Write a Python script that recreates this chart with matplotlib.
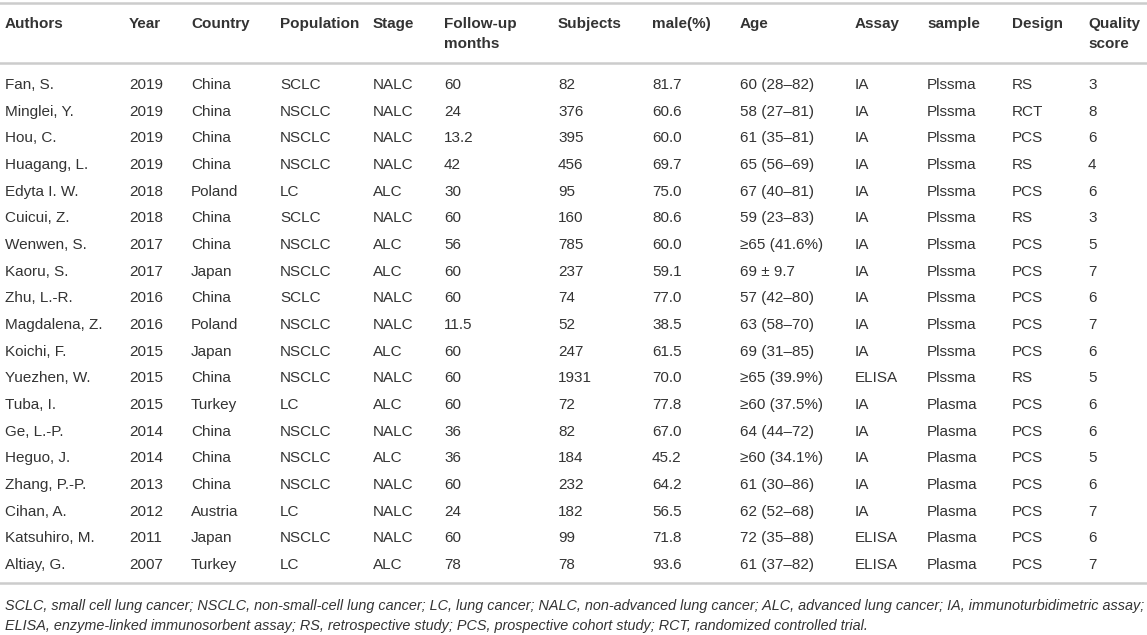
import matplotlib
matplotlib.use("Agg")
import matplotlib.pyplot as plt
from matplotlib.lines import Line2D

# ---- data ----
headers = ["Authors", "Year", "Country", "Population", "Stage", "Follow-up\nmonths",
           "Subjects", "male(%)", "Age", "Assay", "sample", "Design", "Quality\nscore"]
authors = ["Fan, S.", "Minglei, Y.", "Hou, C.", "Huagang, L.", "Edyta I. W.", "Cuicui, Z.",
           "Wenwen, S.", "Kaoru, S.", "Zhu, L.-R.", "Magdalena, Z.", "Koichi, F.", "Yuezhen, W.",
           "Tuba, I.", "Ge, L.-P.", "Heguo, J.", "Zhang, P.-P.", "Cihan, A.", "Katsuhiro, M.",
           "Altiay, G."]
years = ["2019", "2019", "2019", "2019", "2018", "2018", "2017", "2017", "2016", "2016",
         "2015", "2015", "2015", "2014", "2014", "2013", "2012", "2011", "2007"]
countries = ["China", "China", "China", "China", "Poland", "China", "China", "Japan", "China",
             "Poland", "Japan", "China", "Turkey", "China", "China", "China", "Austria", "Japan",
             "Turkey"]
populations = ["SCLC", "NSCLC", "NSCLC", "NSCLC", "LC", "SCLC", "NSCLC", "NSCLC", "SCLC",
               "NSCLC", "NSCLC", "NSCLC", "LC", "NSCLC", "NSCLC", "NSCLC", "LC", "NSCLC", "LC"]
stages = ["NALC", "NALC", "NALC", "NALC", "ALC", "NALC", "ALC", "ALC", "NALC", "NALC", "ALC",
          "NALC", "ALC", "NALC", "ALC", "NALC", "NALC", "NALC", "ALC"]
followup = ["60", "24", "13.2", "42", "30", "60", "56", "60", "60", "11.5", "60", "60", "60",
            "36", "36", "60", "24", "60", "78"]
subjects = ["82", "376", "395", "456", "95", "160", "785", "237", "74", "52", "247", "1931",
            "72", "82", "184", "232", "182", "99", "78"]
male_pct = ["81.7", "60.6", "60.0", "69.7", "75.0", "80.6", "60.0", "59.1", "77.0", "38.5",
            "61.5", "70.0", "77.8", "67.0", "45.2", "64.2", "56.5", "71.8", "93.6"]
ages = ["60 (28–82)", "58 (27–81)", "61 (35–81)", "65 (56–69)", "67 (40–81)", "59 (23–83)",
        "≥65 (41.6%)", "69 ± 9.7", "57 (42–80)", "63 (58–70)", "69 (31–85)", "≥65 (39.9%)",
        "≥60 (37.5%)", "64 (44–72)", "≥60 (34.1%)", "61 (30–86)", "62 (52–68)", "72 (35–88)",
        "61 (37–82)"]
assays = ["IA", "IA", "IA", "IA", "IA", "IA", "IA", "IA", "IA", "IA", "IA", "ELISA", "IA", "IA",
          "IA", "IA", "IA", "ELISA", "ELISA"]
samples = ["Plssma"] * 12 + ["Plasma"] * 7
designs = ["RS", "RCT", "PCS", "RS", "PCS", "RS", "PCS", "PCS", "PCS", "PCS", "PCS", "RS", "PCS",
           "PCS", "PCS", "PCS", "PCS", "PCS", "PCS"]
quality = ["3", "8", "6", "4", "6", "3", "5", "7", "6", "7", "6", "5", "6", "6", "5", "6", "7",
           "6", "7"]
footnote = ["SCLC, small cell lung cancer; NSCLC, non-small-cell lung cancer; LC, lung cancer; "
            "NALC, non-advanced lung cancer; ALC, advanced lung cancer; IA, immunoturbidimetric assay;",
            "ELISA, enzyme-linked immunosorbent assay; RS, retrospective study; PCS, prospective "
            "cohort study; RCT, randomized controlled trial."]

columns = [authors, years, countries, populations, stages, followup, subjects, male_pct, ages,
           assays, samples, designs, quality]

# ---- layout (pixels) ----
W, H = 1147, 635
col_x = [5, 129, 191, 280, 373, 444, 558, 652, 740, 855, 927, 1012, 1088]
row0_y, row_dy = 85, 26.67
header_y, header_dy = 24, 20
line_ys = [3, 63, 583]
color = "#333333"
font = "Liberation Sans"

fig = plt.figure(figsize=(W / 100, H / 100), dpi=100)
fig.patch.set_facecolor("white")

def fx(x):
    return x / W

def fy(y):
    return 1 - y / H

for y in line_ys:
    fig.add_artist(Line2D([0, 1], [fy(y), fy(y)], color="#cccccc", lw=1.8,
                          transform=fig.transFigure))

for x, h in zip(col_x, headers):
    for k, part in enumerate(h.split("\n")):
        fig.text(fx(x), fy(header_y + k * header_dy), part, ha="left", va="center",
                 fontsize=11, fontweight="bold", color=color, family=font)

for x, col in zip(col_x, columns):
    for i, v in enumerate(col):
        fig.text(fx(x), fy(row0_y + i * row_dy), v, ha="left", va="center", fontsize=11,
                 color=color, family=[font, "DejaVu Sans"])

for i, line in enumerate(footnote):
    fig.text(fx(5), fy(606 + i * 20), line, ha="left", va="center", fontsize=10.4,
             style="italic", color=color, family=font)

fig.savefig("out.png", dpi=100, facecolor="white")
